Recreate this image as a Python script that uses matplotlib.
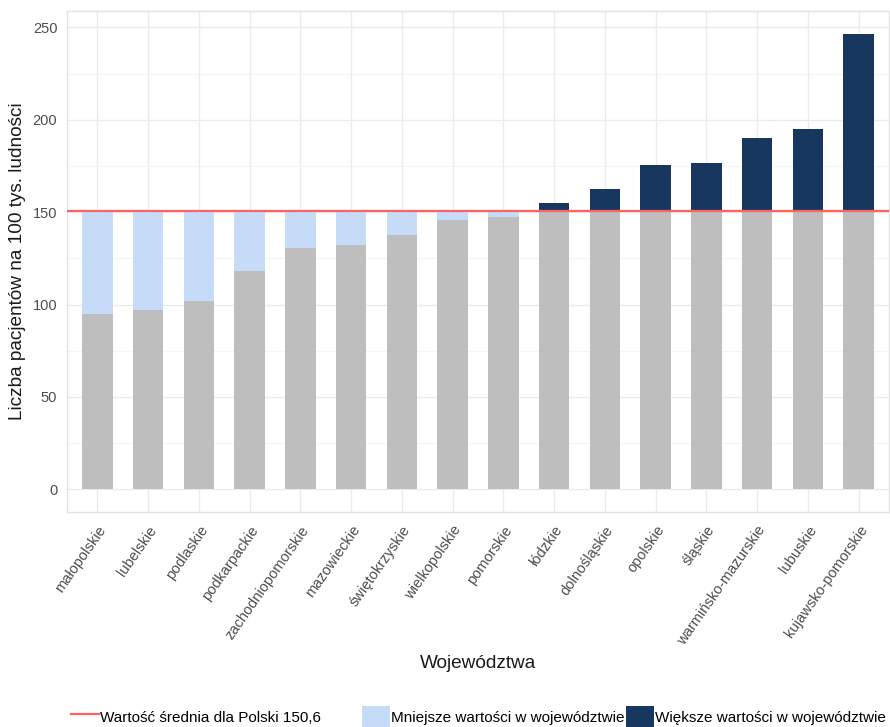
# Wykres: liczba pacjentów na 100 tys. ludności wg województw
import numpy as np
import matplotlib.pyplot as plt
import matplotlib.transforms as mtransforms
from matplotlib.lines import Line2D
from matplotlib.patches import Patch

plt.rcParams["font.family"] = ["Liberation Sans", "DejaVu Sans"]

# Dane
wojewodztwa = [
    "małopolskie", "lubelskie", "podlaskie", "podkarpackie",
    "zachodniopomorskie", "mazowieckie", "świętokrzyskie", "wielkopolskie",
    "pomorskie", "łódzkie", "dolnośląskie", "opolskie", "śląskie",
    "warmińsko-mazurskie", "lubuskie", "kujawsko-pomorskie",
]
pacjenci = [94.7, 96.9, 101.7, 117.9, 130.4, 132.5, 137.4, 146.0,
            147.6, 155.2, 162.8, 175.8, 176.8, 190.3, 195.2, 246.6]
srednia_polska = 150.6
etykieta_sredniej = "Wartość średnia dla Polski 150,6"

# Podział słupków: część szara + różnica do średniej
wartosci = np.array(pacjenci)
szary = np.minimum(wartosci, srednia_polska)
mniejsze = np.where(wartosci < srednia_polska, srednia_polska - wartosci, 0)
wieksze = np.where(wartosci > srednia_polska, wartosci - srednia_polska, 0)

kolor_szary = "#bebebe"
kolor_jasny = "#c6dbf7"
kolor_ciemny = "#17375e"
kolor_linii = "#ff6262"

fig = plt.figure(figsize=(8.9, 7.27), dpi=100)
ax = fig.add_axes([67 / 890, 1 - 512 / 727, 822 / 890, 501 / 727])

x = np.arange(len(wojewodztwa))
ax.bar(x, szary, width=0.6, color=kolor_szary, zorder=2)
ax.bar(x, mniejsze, bottom=wartosci, width=0.6, color=kolor_jasny, zorder=2)
ax.bar(x, wieksze, bottom=srednia_polska, width=0.6, color=kolor_ciemny, zorder=2)
ax.axhline(srednia_polska, color=kolor_linii, lw=1.6, zorder=3)

# Osie i siatka
ax.set_xlim(-0.6, len(wojewodztwa) - 0.4)
ax.set_ylim(-0.05 * wartosci.max(), 1.05 * wartosci.max())
ax.set_yticks(np.arange(0, 251, 50))
ax.set_yticks(np.arange(25, 250, 50), minor=True)
ax.set_xticks(x)
ax.set_xticklabels(wojewodztwa, rotation=55, ha="right", va="top",
                   rotation_mode="anchor")
shift = mtransforms.ScaledTranslation(5 / 100, 0, fig.dpi_scale_trans)
for lab in ax.get_xticklabels():
    lab.set_transform(lab.get_transform() + shift)

ax.grid(which="major", color="#ebebeb", lw=1.0, zorder=0)
ax.grid(which="minor", axis="y", color="#f4f4f4", lw=0.8, zorder=0)
ax.set_axisbelow(True)
for s in ax.spines.values():
    s.set_color("#e3e3e3")
    s.set_linewidth(1.0)

ax.tick_params(which="both", length=0, labelsize=10.5, labelcolor="#4d4d4d")
ax.tick_params(axis="y", pad=7)
ax.tick_params(axis="x", pad=8)

ax.set_ylabel("Liczba pacjentów na 100 tys. ludności", fontsize=13.7,
              color="#1a1a1a", va="center")
ax.yaxis.set_label_coords(-49 / 822, 0.5)
ax.set_xlabel("Województwa", fontsize=13.7, color="#1a1a1a", va="center")
ax.xaxis.set_label_coords(0.5, -151 / 501)

# Legendy
leg_y = 1 - 717 / 727
leg1 = fig.legend(
    handles=[Line2D([], [], color=kolor_linii, lw=1.6)],
    labels=[etykieta_sredniej],
    loc="center left", bbox_to_anchor=(71 / 890, leg_y),
    frameon=False, fontsize=11, handlelength=1.83, handleheight=1.83,
    handletextpad=0.1, borderpad=0, borderaxespad=0,
)
leg2 = fig.legend(
    handles=[Patch(facecolor=kolor_jasny, edgecolor="none"),
             Patch(facecolor=kolor_ciemny, edgecolor="none")],
    labels=["Mniejsze wartości w województwie", "Większe wartości w województwie"],
    loc="center left", bbox_to_anchor=(362 / 890, leg_y), ncol=2,
    frameon=False, fontsize=11, handlelength=1.83, handleheight=1.83,
    handletextpad=0.1, columnspacing=0.05, borderpad=0, borderaxespad=0,
)

fig.savefig("out.png", dpi=100)
